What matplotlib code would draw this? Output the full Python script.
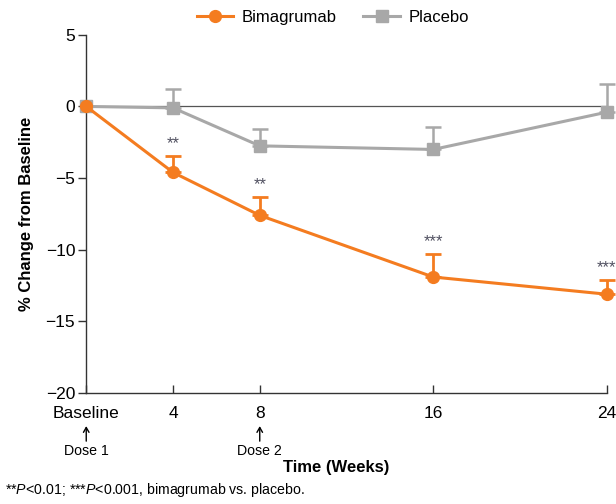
import matplotlib
matplotlib.use("Agg")
import matplotlib.pyplot as plt
import numpy as np

plt.rcParams['font.family'] = ['Liberation Sans', 'DejaVu Sans']
plt.rcParams['mathtext.fontset'] = 'custom'
plt.rcParams['mathtext.rm'] = 'Liberation Sans'
plt.rcParams['mathtext.it'] = 'Liberation Sans:italic'

weeks = [0, 4, 8, 16, 24]
tick_labels = ['Baseline', '4', '8', '16', '24']
bima = [0.0, -4.6, -7.6, -11.9, -13.1]
bima_err = [0.0, 1.15, 1.3, 1.6, 1.0]
plac = [0.0, -0.1, -2.75, -3.0, -0.4]
plac_err = [0.0, 1.35, 1.2, 1.55, 2.0]
stars = ['', '**', '**', '***', '***']

orange = '#F47C20'
gray = '#A8A8A8'
dark = '#333333'

fig = plt.figure(figsize=(6.16, 5.04), dpi=100)
ax = fig.add_axes([0.140, 0.220, 0.845, 0.711])

ax.plot([0, 24], [0, 0], color='#555555', lw=0.9, zorder=1)

ax.errorbar(weeks[1:], plac[1:], yerr=[np.zeros(4), plac_err[1:]], fmt='none',
            ecolor=gray, elinewidth=1.8, capsize=5.5, capthick=1.8, zorder=2, clip_on=False)
l2, = ax.plot(weeks, plac, color=gray, lw=2.2, marker='s', markersize=8,
              label='Placebo', zorder=3, clip_on=False)
ax.errorbar(weeks[1:], bima[1:], yerr=[np.zeros(4), bima_err[1:]], fmt='none',
            ecolor=orange, elinewidth=2, capsize=5.5, capthick=2, zorder=4, clip_on=False)
l1, = ax.plot(weeks, bima, color=orange, lw=2.2, marker='o', markersize=8.5,
              label='Bimagrumab', zorder=5, clip_on=False)

for x, y, e, s in zip(weeks, bima, bima_err, stars):
    if s:
        ax.text(x, y + e + 0.35, s, ha='center', va='bottom', fontsize=12, color='#505060')

ax.set_xlim(0, 24)
ax.set_ylim(-20, 5)
ax.set_xticks(weeks)
ax.set_xticklabels(tick_labels, fontsize=12.5)
ax.set_yticks([5, 0, -5, -10, -15, -20])
ax.set_yticklabels(['5', '0', '\u22125', '\u221210', '\u221215', '\u221220'], fontsize=12.5)
ax.tick_params(axis='x', direction='in', length=6, color=dark, width=1, pad=9)
ax.tick_params(axis='y', direction='out', length=6, color=dark, width=1, pad=2)
for sp in ['top', 'right']:
    ax.spines[sp].set_visible(False)
for sp in ['left', 'bottom']:
    ax.spines[sp].set_color(dark)
    ax.spines[sp].set_linewidth(1)

ax.set_ylabel('% Change from Baseline', fontsize=12, fontweight='bold', labelpad=8)
fig.text(0.545, 0.073, 'Time (Weeks)', fontsize=12, fontweight='bold', ha='center', va='center')

for x, lab in [(0, 'Dose 1'), (8, 'Dose 2')]:
    ax.annotate('', xy=(x, -22.3), xytext=(x, -23.35), xycoords='data', textcoords='data',
                arrowprops=dict(arrowstyle='->,head_length=0.35,head_width=0.2', color='black',
                                lw=1, shrinkA=0, shrinkB=0),
                annotation_clip=False)
    ax.text(x, -23.55, lab, ha='center', va='top', fontsize=10.2, clip_on=False)

fig.text(0.008, 0.028, r'**$\it{P}$<0.01; ***$\it{P}$<0.001, bimagrumab vs. placebo.',
         fontsize=10.2, ha='left', va='center')

fig.legend(handles=[l1, l2], loc='center', bbox_to_anchor=(0.54, 0.965), ncol=2,
           frameon=False, fontsize=12, handlelength=2.2, columnspacing=1.6, handletextpad=0.5)

fig.savefig('out.png', dpi=100)
